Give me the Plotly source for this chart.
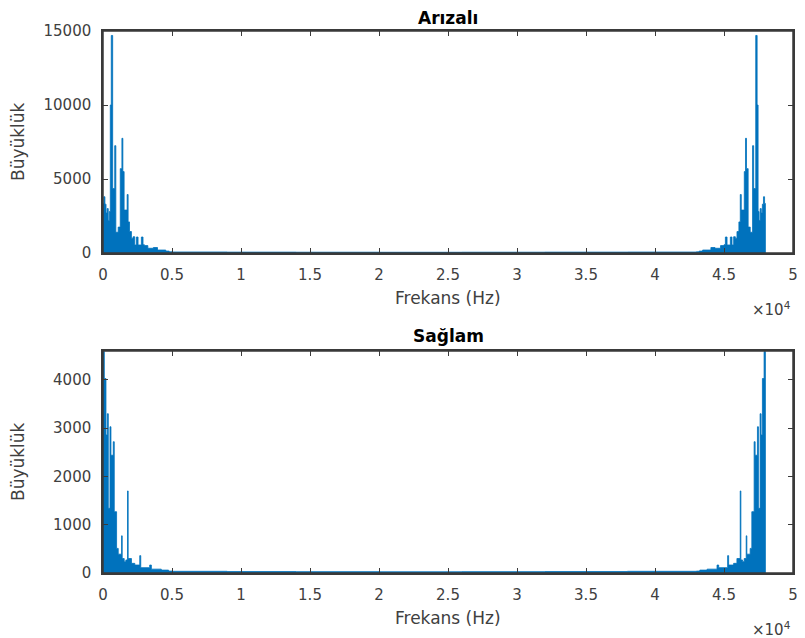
import plotly.graph_objects as go
from plotly.subplots import make_subplots

# ---- Data (frequency breakpoints in Hz, magnitude held until next breakpoint) ----
fault_freq = [0, 60, 140, 220, 300, 380, 460, 530, 600, 700, 850, 930, 1100, 1250, 1370,
              1440, 1530, 1750, 1820, 1920, 2060, 2180, 2300, 2420, 2540, 2780, 2900, 3000,
              3250, 3650, 3950, 4550, 4800,
              5000, 9000, 14000, 20000, 26000, 32000, 38000,
              43000, 43200, 43450, 44050, 44350, 44750, 45000, 45100, 45220, 45460, 45580,
              45700, 45820, 45940, 46080, 46180, 46250, 46470, 46560, 46630, 46750, 46900,
              47070, 47150, 47300, 47400, 47470, 47540, 47620, 47700, 47780, 47860, 47940, 48000]
fault_mag = [3350, 3800, 3300, 2700, 3000, 2200, 2800, 10000, 14700, 4350, 7250, 1400, 1750,
             5700, 7750, 5500, 2900, 3950, 2100, 1450, 1000, 1100, 540, 1080, 540, 1080, 560,
             500, 320, 370, 200, 130, 80,
             70, 60, 55, 50, 55, 60, 65,
             80, 130, 200, 370, 320, 500, 560, 1080, 540, 1080, 540, 1100, 1000, 1450, 2100,
             3950, 2900, 5500, 7750, 5700, 1750, 1400, 7250, 4350, 14700, 10000, 2800, 2200,
             3000, 2700, 3300, 3800, 3350, 0]

healthy_freq = [0, 96, 216, 312, 384, 504, 576, 744, 816, 984, 1104, 1344, 1392, 1536, 1656,
                1776, 1824, 2064, 2304, 2664, 2736, 3384, 3504, 4224, 4752,
                5000, 9000, 14000, 20000, 26000, 32000, 38000,
                43000, 43248, 43776, 44496, 44616, 45264, 45336, 45696, 45936, 46176, 46224,
                46344, 46464, 46608, 46656, 46896, 47016, 47184, 47256, 47424, 47496, 47616,
                47688, 47784, 47904, 48000]
healthy_mag = [4590, 4030, 2860, 3300, 1340, 3030, 2440, 2720, 1270, 510, 390, 770, 300, 235,
               270, 1700, 300, 200, 165, 360, 110, 165, 80, 60, 40,
               35, 30, 28, 25, 28, 30, 35,
               40, 60, 80, 165, 110, 360, 165, 200, 300, 1700, 270, 235, 300, 770, 390, 510,
               1270, 2720, 2440, 3030, 1340, 3300, 2860, 4030, 4590, 0]

x_tick_vals = [0, 5000, 10000, 15000, 20000, 25000, 30000, 35000, 40000, 45000, 50000]
x_tick_text = ["0", "0.5", "1", "1.5", "2", "2.5", "3", "3.5", "4", "4.5", "5"]
top_y_ticks = [0, 5000, 10000, 15000]
top_y_text = ["0", "5000", "10000", "15000"]
bot_y_ticks = [0, 1000, 2000, 3000, 4000]
bot_y_text = ["0", "1000", "2000", "3000", "4000"]

titles = ["Arızalı", "Sağlam"]
x_label = "Frekans (Hz)"
y_label = "Büyüklük"

# ---- Figure ----
BLUE = "#0072BD"
AX = "#3a3a3a"
TXT = "#404040"
FONT = "DejaVu Sans"

# page body has an 8px default margin; size the figure so it ends at the window edge
W, H = 797, 630
L, R, T, B = 95, 7, 23, 65

fig = make_subplots(rows=2, cols=1, vertical_spacing=0.1)

fig.add_trace(go.Scatter(x=fault_freq, y=fault_mag, mode="lines", line_shape="hv",
                         line=dict(color=BLUE, width=0.8), fill="tozeroy",
                         fillcolor=BLUE, showlegend=False, hoverinfo="x+y"), row=1, col=1)
fig.add_trace(go.Scatter(x=healthy_freq, y=healthy_mag, mode="lines", line_shape="hv",
                         line=dict(color=BLUE, width=0.8), fill="tozeroy",
                         fillcolor=BLUE, showlegend=False, hoverinfo="x+y"), row=2, col=1)

axis_common = dict(showline=True, linecolor=AX, linewidth=1.5, mirror="ticks",
                   ticks="inside", ticklen=5, tickcolor=AX, tickwidth=1, showgrid=False,
                   zeroline=False, tickfont=dict(family=FONT, size=15, color=TXT),
                   ticklabelstandoff=7, layer="above traces")

fig.update_xaxes(axis_common, range=[0, 50000], tickvals=x_tick_vals, ticktext=x_tick_text)
fig.update_yaxes(axis_common)
fig.update_yaxes(range=[0, 15000], tickvals=top_y_ticks, ticktext=top_y_text, row=1, col=1)
fig.update_yaxes(range=[0, 4600], tickvals=bot_y_ticks, ticktext=bot_y_text, row=2, col=1)

top_dom = [0.5904, 1.0]
bot_dom = [0.0, 0.4096]
fig.update_layout(
    width=W, height=H,
    margin=dict(l=L, r=R, t=T, b=B),
    paper_bgcolor="white", plot_bgcolor="white",
    font=dict(family=FONT, color=AX),
    xaxis=dict(domain=[0, 1]), xaxis2=dict(domain=[0, 1]),
    yaxis=dict(domain=top_dom), yaxis2=dict(domain=bot_dom),
)

# frame around each axes box (paper coordinates)
for dom in [top_dom, bot_dom]:
    fig.add_shape(type="rect", xref="paper", yref="paper", x0=0, x1=1, y0=dom[0], y1=dom[1],
                  line=dict(color=AX, width=1.5), fillcolor="rgba(0,0,0,0)", layer="above")

ann = []
for txt, ytop, shift in [(titles[0], top_dom[1], 1), (titles[1], bot_dom[1], 3)]:
    ann.append(dict(text="<b>" + txt + "</b>", x=0.5, xref="paper", y=ytop, yref="paper",
                    yshift=shift, xanchor="center", yanchor="bottom", showarrow=False,
                    font=dict(family=FONT, size=17, color="#000000")))
for ybase in [top_dom[0], bot_dom[0]]:
    ann.append(dict(text=x_label, x=0.5, xref="paper", y=ybase, yref="paper",
                    yshift=-33, xanchor="center", yanchor="top", showarrow=False,
                    font=dict(family=FONT, size=17, color=TXT)))
    ann.append(dict(text="×10<sup>4</sup>", x=1.0, xref="paper", y=ybase, yref="paper",
                    yshift=-44, xanchor="right", yanchor="top", showarrow=False,
                    font=dict(family=FONT, size=15, color=TXT)))
for ymid in [sum(top_dom) / 2, sum(bot_dom) / 2]:
    ann.append(dict(text=y_label, x=0, xref="paper", xshift=-85, y=ymid, yref="paper",
                    xanchor="center", yanchor="middle", textangle=-90, showarrow=False,
                    font=dict(family=FONT, size=17, color=TXT)))
fig.update_layout(annotations=ann)

fig.write_html("out.html")
